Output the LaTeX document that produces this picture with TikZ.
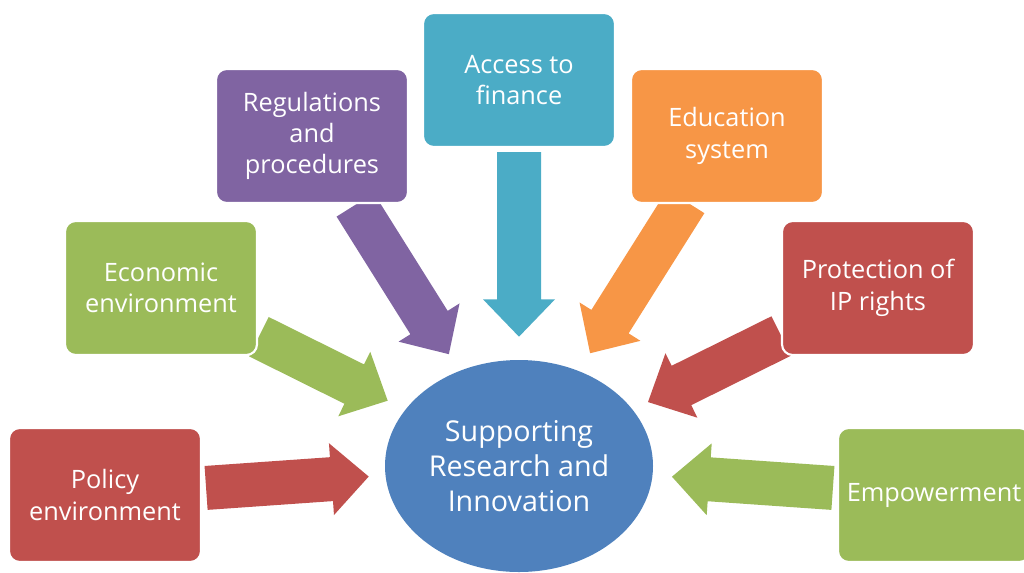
\documentclass[tikz,border=0pt]{standalone}
\usepackage{fontspec}
\setmainfont{Open Sans}
\usepackage{tikz}
\usetikzlibrary{
  shapes.geometric,
  calc,
  backgrounds
}
\definecolor{ORed}{HTML}{C0504D}
\definecolor{OGreen}{HTML}{9BBB59}
\definecolor{OPurple}{HTML}{8064A2}
\definecolor{OTeal}{HTML}{4BACC6}
\definecolor{OOrange}{HTML}{F79646}
\definecolor{OBlue}{HTML}{4F81BD}
\tikzset{
  % Factor box: fixed size, white rim
  fbox/.style={
    rectangle, rounded corners=8pt,
    draw=white, line width=1.6pt, fill=#1,
    minimum width=144pt, minimum height=100.5pt,
    align=center, text=white,
    font=\fontsize{19}{23.5}\selectfont
  },
  % Central goal ellipse
  goal/.style={
    ellipse, fill=OBlue,
    minimum width=201pt, minimum height=159pt, inner sep=0pt,
    align=center, text=white,
    font=\fontsize{21.5}{26}\selectfont
  }
}
% Block arrow from one node towards another:
% #1 colour, #2 from, #3 to, #4 gap at start, #5 gap at tip
\newcommand{\blockarrow}[5]{%
  \path ($(#2.center)!#4!(#3.center)$) coordinate (s)
        ($(#3.center)!#5!(#2.center)$) coordinate (t)
        ($(t)!28pt!(s)$) coordinate (h);
  \fill[#1] ($(s)!16.5pt!90:(t)$) -- ($(h)!16.5pt!90:(t)$)
    -- ($(h)!27pt!90:(t)$) -- (t) -- ($(h)!27pt!-90:(t)$)
    -- ($(h)!16.5pt!-90:(t)$) -- ($(s)!16.5pt!-90:(t)$) -- cycle;
}
\begin{document}
\begin{tikzpicture}[x=0.75pt,y=-0.75pt]
  \useasboundingbox (0,0) rectangle (1024,572);
  \node[goal] (sup) at (519,466) {Supporting\\Research and\\Innovation};
  \node[fbox=ORed]    (pol) at (105,495) {Policy\\environment};
  \node[fbox=OGreen]  (eco) at (161,288) {Economic\\environment};
  \node[fbox=OPurple] (reg) at (312,136) {Regulations\\and\\procedures};
  \node[fbox=OTeal]   (acc) at (519,80)  {Access to\\finance};
  \node[fbox=OOrange] (edu) at (727,136) {Education\\system};
  \node[fbox=ORed]    (ipr) at (878,288) {Protection of\\IP rights};
  \node[fbox=OGreen]  (emp) at (934,495) {Empowerment};
  \begin{scope}[on background layer]
    \blockarrow{ORed}{pol}{sup}{76pt}{113pt}
    \blockarrow{OGreen}{eco}{sup}{82pt}{110pt}
    \blockarrow{OPurple}{reg}{sup}{61pt}{99pt}
    \blockarrow{OTeal}{acc}{sup}{54pt}{97pt}
    \blockarrow{OOrange}{edu}{sup}{58pt}{100pt}
    \blockarrow{ORed}{ipr}{sup}{81pt}{108pt}
    \blockarrow{OGreen}{emp}{sup}{76pt}{115pt}
  \end{scope}
\end{tikzpicture}
\end{document}
